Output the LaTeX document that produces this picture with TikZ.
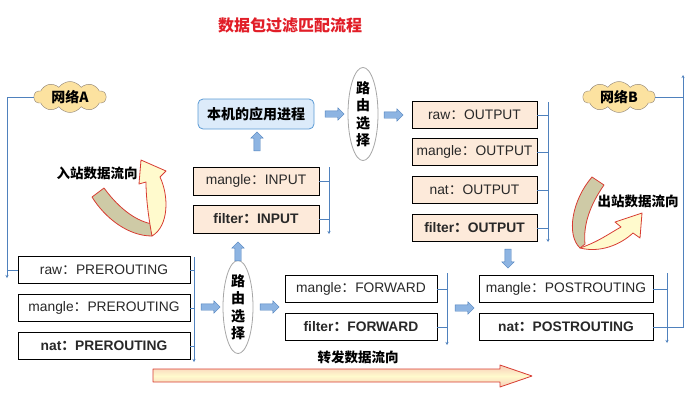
\documentclass[tikz,border=0pt]{standalone}
\usepackage{fontspec}
\setmainfont{Liberation Sans}
\newfontfamily\cjk{Noto Sans CJK SC}
\usetikzlibrary{arrows.meta, positioning, calc, shapes.geometric, shapes.symbols, shapes.arrows}

\definecolor{peach}{RGB}{253,234,218}
\definecolor{blueline}{RGB}{79,129,189}
\definecolor{bluefill}{RGB}{141,180,226}
\definecolor{cloudfill}{RGB}{252,226,160}
\definecolor{appfill}{RGB}{220,235,250}
\definecolor{appline}{RGB}{91,155,213}
\definecolor{tailfill}{RGB}{206,202,166}
\definecolor{pale}{RGB}{255,250,205}
\definecolor{redline}{RGB}{215,60,50}
\definecolor{titlered}{RGB}{225,30,40}
\definecolor{pinkedge}{RGB}{248,205,185}
\definecolor{boxtext}{RGB}{40,40,40}

\def\fc{{\cjk ：}}

\begin{document}
\begin{tikzpicture}[x=1pt, y=-1pt, >=Stealth,
	box/.style={draw=black, fill=white, line width=0.8pt, minimum height=27pt, inner sep=0pt, text=boxtext, font=\fontsize{13.8}{16}\selectfont},
	boldbox/.style={box, font=\fontsize{13.8}{16}\selectfont\bfseries},
	route/.style={ellipse, draw=gray!70, fill=white, line width=0.8pt, minimum width=30pt, minimum height=82pt, inner sep=0pt, align=center, font=\cjk\bfseries\fontsize{14}{17.5}\selectfont},
	net/.style={cloud, cloud puffs=10, cloud puff arc=110, aspect=2.3, draw=gray!80!brown, fill=cloudfill, minimum width=72pt, minimum height=31pt, inner sep=0pt, font=\cjk\bfseries\fontsize{14}{15}\selectfont},
	app/.style={draw=appline, fill=appfill, rounded corners=5pt, line width=0.8pt, minimum width=116pt, minimum height=30pt, font=\cjk\bfseries\fontsize{14}{16}\selectfont},
	barrow/.style={single arrow, draw=blueline, fill=bluefill, minimum height=19pt, single arrow head extend=3pt, inner sep=3pt},
	flow/.style={font=\cjk\bfseries\fontsize{13.5}{15}\selectfont},
	link/.style={blueline, line width=0.8pt},
	tip/.style={-{Stealth[length=3pt, width=3pt]}},
	band/.style={draw=redline, line width=0.8pt, line join=round}]
	
	\useasboundingbox (0,0) rectangle (693,408);
	
	% ====== title ======
	\node[font=\cjk\bfseries\fontsize{16}{19}\selectfont, text=titlered] (title) at (290,25) {数据包过滤匹配流程};
	
	% ====== networks ======
	\node[net] (netA) at (70,97) {网络A};
	\node[net] (netB) at (619,97) {网络B};
	
	% ====== PREROUTING ======
	\node[box, minimum width=172pt] (rawpre) at (104,270) {raw\fc PREROUTING};
	\node[box, minimum width=172pt] (manglepre) at (104,308) {mangle\fc PREROUTING};
	\node[boldbox, minimum width=172pt] (natpre) at (104,346) {nat\fc PREROUTING};
	
	% ====== routing decisions ======
	\node[route] (route1) at (238,307) {路\\由\\选\\择};
	\node[route] (route2) at (363,114) {路\\由\\选\\择};
	
	% ====== INPUT and local process ======
	\node[box, fill=peach, minimum width=126pt, minimum height=28pt] (mangleinp) at (256,181) {mangle\fc INPUT};
	\node[boldbox, fill=peach, minimum width=126pt, minimum height=28pt] (filterinp) at (256,219) {filter\fc INPUT};
	\node[app] (app) at (256,114) {本机的应用进程};
	
	% ====== OUTPUT ======
	\node[box, fill=peach, minimum width=125pt] (rawout) at (474.5,115) {raw\fc OUTPUT};
	\node[box, fill=peach, minimum width=125pt] (mangleout) at (474.5,152) {mangle\fc OUTPUT};
	\node[box, fill=peach, minimum width=125pt] (natout) at (474.5,190) {nat\fc OUTPUT};
	\node[boldbox, fill=peach, minimum width=125pt] (filterout) at (474.5,228) {filter\fc OUTPUT};
	
	% ====== FORWARD ======
	\node[box, minimum width=152pt] (manglefwd) at (361,289) {mangle\fc FORWARD};
	\node[boldbox, minimum width=152pt] (filterfwd) at (361,327) {filter\fc FORWARD};
	
	% ====== POSTROUTING ======
	\node[box, minimum width=174pt] (manglepost) at (566,289) {mangle\fc POSTROUTING};
	\node[boldbox, minimum width=174pt] (natpost) at (566,327) {nat\fc POSTROUTING};
	
	% ====== block arrows between stages ======
	\node[barrow] (a1) at (209,307) {};
	\node[barrow] (a2) at (268,307) {};
	\node[barrow, rotate=90] (a3) at (238,253) {};
	\node[barrow, rotate=90] (a4) at (257,143) {};
	\node[barrow] (a5) at (333,114) {};
	\node[barrow] (a6) at (392,115) {};
	\node[barrow, rotate=-90] (a7) at (508,257) {};
	\node[barrow] (a8) at (463,308) {};
	
	% ====== brackets ======
	\coordinate (preT) at (194,257);  \coordinate (preB) at (194,362);
	\coordinate (inpT) at (329,167);  \coordinate (inpB) at (329,234);
	\coordinate (outT) at (548,102);  \coordinate (outB) at (548,242);
	\coordinate (fwdT) at (447,273);  \coordinate (fwdB) at (447,345);
	\coordinate (postT) at (667,273); \coordinate (postB) at (667,343);
	\draw[link, tip] (preT) -- (preB);
	\draw[link, tip] (inpT) -- (inpB);
	\draw[link, tip] (outT) -- (outB);
	\draw[link, tip] (fwdT) -- (fwdB);
	\draw[link, tip] (postT) -- (postB);
	\foreach \n in {rawpre, manglepre, natpre}
		\draw[link] (\n.east) -- (\n.east -| preT);
	\foreach \n in {mangleinp, filterinp}
		\draw[link] (\n.east) -- (\n.east -| inpT);
	\foreach \n in {rawout, mangleout, natout, filterout}
		\draw[link] (\n.east) -- (\n.east -| outT);
	\foreach \n in {manglefwd, filterfwd}
		\draw[link] (\n.east) -- (\n.east -| fwdT);
	\draw[link] (manglepost.east) -- (manglepost.east -| postT);
	
	% ====== network feeds ======
	\coordinate (feedA) at (7,278);
	\coordinate (feedB) at (683,75);
	\draw[link, tip] (netA.west) -| (feedA);
	\draw[link] (rawpre.west) -- (rawpre.west -| feedA);
	\draw[link, tip] (natpost.east) -| (feedB);
	\draw[link] (netB.east) -- (netB.east -| feedB);
	
	% ====== inbound flow (curved arrow) ======
	\draw[band, fill=tailfill] (92,197) -- (104,188) .. controls (120,210) and (138,222) .. (153,224)
		-- (152,236) .. controls (128,236) and (105,218) .. (92,197) -- cycle;
	\draw[band, fill=pale] (152,236) .. controls (148,215) and (146,196) .. (146,182)
		-- (139,184) -- (141,160) -- (166,171) -- (160,177)
		.. controls (169,196) and (169,226) .. (152,236) -- cycle;
	\node[flow] (inlbl) at (97,173) {入站数据流向};
	
	% ====== outbound flow (curved arrow) ======
	\draw[band, fill=tailfill] (592,177) -- (604,185) .. controls (590,205) and (583,225) .. (585,244)
		-- (580,248) .. controls (566,235) and (572,200) .. (592,177) -- cycle;
	\draw[band, fill=pale] (580,248) .. controls (598,242) and (610,233) .. (621,227)
		-- (615,222) -- (642,213) -- (640,238) -- (633,233)
		.. controls (620,245) and (600,253) .. (580,248) -- cycle;
	\node[flow] (outlbl) at (638,201) {出站数据流向};
	
	% ====== forward flow (straight arrow) ======
	\node[flow] (fwdlbl) at (358,357) {转发数据流向};
	\draw[band, top color=pinkedge, bottom color=pinkedge, middle color=pale]
		(153,369) -- (500,369) -- (500,365) -- (532,376) -- (500,387) -- (500,382) -- (153,382) -- cycle;
\end{tikzpicture}
\end{document}
